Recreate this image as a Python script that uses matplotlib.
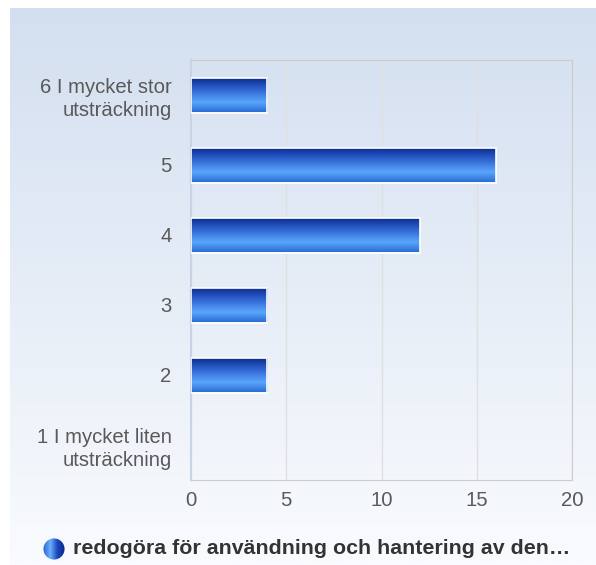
import numpy as np
import matplotlib.pyplot as plt
from matplotlib.colors import LinearSegmentedColormap
from matplotlib.patches import Rectangle, Circle

# data
categories = ['6 I mycket stor\nutsträckning', '5', '4', '3', '2', '1 I mycket liten\nutsträckning']
values = [4, 16, 12, 4, 4, 0]
series_label = 'redogöra för användning och hantering av den…'

plt.rcParams['font.family'] = ['Liberation Sans', 'DejaVu Sans']

fig = plt.figure(figsize=(5.96, 5.65), dpi=100)

# background gradient panel
bg = fig.add_axes([10 / 596, 0, 1 - 10 / 596, 1 - 8 / 565], zorder=-10)
bg_cmap = LinearSegmentedColormap.from_list('bg', ['#d3dff0', '#f9fbfe'])
bg.imshow(np.linspace(0, 1, 256).reshape(-1, 1), aspect='auto', cmap=bg_cmap,
          extent=[0, 1, 0, 1], origin='upper')
bg.set_axis_off()

ax = fig.add_axes([191 / 596, 1 - 480 / 565, 381 / 596, 420 / 565])
ax.patch.set_alpha(0)

bar_cmap = LinearSegmentedColormap.from_list(
    'bar', [(0, '#0a2a8c'), (0.35, '#2f63d0'), (0.72, '#5aa6fc'), (1, '#2b6fd6')])
grad = np.linspace(0, 1, 64).reshape(-1, 1)

n = len(categories)
ypos = np.arange(n)[::-1]
h = 0.5
for y, v in zip(ypos, values):
    if v <= 0:
        continue
    im = ax.imshow(grad, aspect='auto', cmap=bar_cmap, origin='upper',
                   extent=[0, v, y - h / 2, y + h / 2], zorder=3)
    r = Rectangle((0, y - h / 2), v, h, facecolor='none', edgecolor='white', lw=1.2, zorder=4)
    ax.add_patch(r)
    im.set_clip_path(r)

ax.set_xlim(0, 20)
ax.set_ylim(-0.5, n - 0.5)
ax.set_xticks([0, 5, 10, 15, 20])
ax.set_yticks(ypos)
ax.set_yticklabels(categories, ha='right', multialignment='right', linespacing=1.25)
ax.tick_params(length=0, labelsize=14.6, colors='#595959')
ax.tick_params(axis='y', pad=14)
ax.tick_params(axis='x', pad=8)
ax.grid(axis='x', color='#e0e0e0', lw=1)
ax.set_axisbelow(True)
for s in ['top', 'right', 'bottom']:
    ax.spines[s].set_color('#cccccc')
ax.spines['left'].set_color('#c8d4e6')
ax.spines['left'].set_linewidth(1.5)

# legend
fig.text(73 / 596, 1 - 549 / 565, series_label, fontsize=15.4, fontweight='bold',
         color='#333333', va='center', ha='left')
lax = fig.add_axes([43 / 596, 1 - 560 / 565, 22 / 596, 22 / 565])
leg_cmap = LinearSegmentedColormap.from_list('leg', ['#2a63d4', '#6aaefc', '#1a45b8', '#0a2a8c'])
lim = lax.imshow(np.linspace(0, 1, 64).reshape(1, -1), aspect='auto', cmap=leg_cmap,
                 extent=[0, 1, 0, 1])
c = Circle((0.5, 0.5), 0.48, transform=lax.transData, facecolor='none', edgecolor='none')
lax.add_patch(c)
lim.set_clip_path(c)
lax.set_xlim(0, 1)
lax.set_ylim(0, 1)
lax.set_axis_off()

fig.savefig('out.png', dpi=100)
